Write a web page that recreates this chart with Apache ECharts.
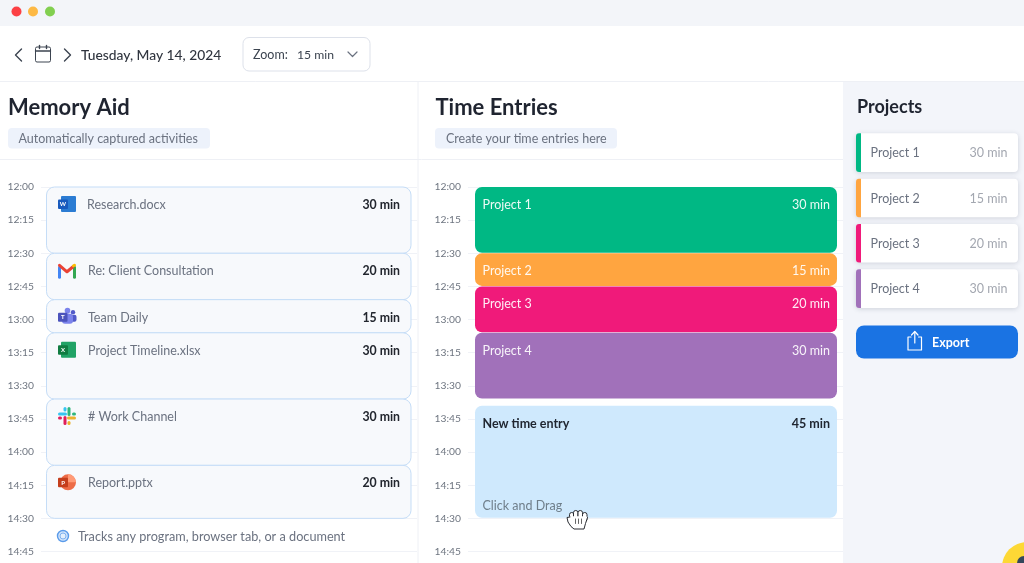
<!DOCTYPE html>
<html>
<head>
<meta charset="utf-8">
<title>Time Entries</title>
<style>
html,body{margin:0;padding:0;background:#fff;}
#chart{width:1024px;height:563px;filter:blur(0.3px);}
</style>
<script src="https://cdn.jsdelivr.net/npm/echarts@6/dist/echarts.min.js"></script>
</head>
<body>
<div id="chart"></div>
<script>
var FONT = 'Lato, "Noto Sans", sans-serif';

// time axis, minutes since midnight
var timeLabels = ['12:00','12:15','12:30','12:45','13:00','13:15','13:30','13:45','14:00','14:15','14:30','14:45'];
var axisMin = 720, axisMax = 885, axisStep = 15;

// memory aid column
var memoryNames = ['Research.docx','Re: Client Consultation','Team Daily','Project Timeline.xlsx','# Work Channel','Report.pptx'];
var memoryIcons = ['word','gmail','teams','excel','slack','ppt'];
var memoryStart = [720,750,771,786,816,846];
var memoryEnd = [750,771,786,816,846,870];
var memoryLabels = [30,20,15,30,30,20];

// time entries column
var entryNames = ['Project 1','Project 2','Project 3','Project 4','New time entry'];
var entryStart = [720,750,765,786,819];
var entryEnd = [750,765,786,816,870];
var entryLabels = [30,15,20,30,45];
var entryColors = ['#00b884','#ffa540','#f01a7a','#a171ba','#cfe9fd'];

// projects side list
var projectNames = ['Project 1','Project 2','Project 3','Project 4'];
var projectMinutes = [30,15,20,30];

function txt(x, y, text, size, fill, weight, align) {
    return {
        type: 'text', x: x, y: y, silent: true,
        style: {
            text: text, fill: fill, textAlign: align || 'left', textVerticalAlign: 'middle',
            font: (weight || 'normal') + ' ' + size + 'px ' + FONT
        }
    };
}
function box(x, y, w, h, r, fill, stroke) {
    return {
        type: 'rect', silent: true,
        shape: {x: x, y: y, width: w, height: h, r: r},
        style: {fill: fill, stroke: stroke || null, lineWidth: stroke ? 1 : 0}
    };
}
function ln(points, color, width) {
    return {
        type: 'polyline', silent: true,
        shape: {points: points},
        style: {fill: null, stroke: color, lineWidth: width || 1.5, lineCap: 'round', lineJoin: 'round'}
    };
}
function dot(x, y, r, fill) {
    return {type: 'circle', silent: true, shape: {cx: x, cy: y, r: r}, style: {fill: fill}};
}

// little app logos next to the captured activities
function appIcon(kind, x, y) {
    if (kind === 'word' || kind === 'excel') {
        var light = kind === 'word' ? '#2b7cd3' : '#21a366';
        var dark = kind === 'word' ? '#185abd' : '#107c41';
        return [
            box(x - 6, y - 8, 15, 16, 1, light),
            box(x - 9, y - 4.5, 10, 9.5, 1, dark),
            txt(x - 4, y + 0.5, kind === 'word' ? 'W' : 'X', 6, '#fff', 'bold', 'center')
        ];
    }
    if (kind === 'ppt') {
        return [
            dot(x + 1, y, 8, '#ed6c47'),
            {type: 'sector', silent: true, shape: {cx: x + 1, cy: y, r: 8, startAngle: -Math.PI / 2, endAngle: 0}, style: {fill: '#ff9a76'}},
            box(x - 9, y - 4.5, 10, 9.5, 1, '#c43e1c'),
            txt(x - 4, y + 0.5, 'P', 6, '#fff', 'bold', 'center')
        ];
    }
    if (kind === 'teams') {
        return [
            dot(x + 6, y - 4.5, 2.2, '#5059c9'),
            box(x + 2, y - 2, 7.5, 7, 2, '#5059c9'),
            dot(x + 0.5, y - 6, 2.8, '#7b83eb'),
            box(x - 5, y - 3, 11, 10, 3, '#7b83eb'),
            box(x - 9, y - 4, 9.5, 9, 1, '#4b53bc'),
            txt(x - 4.2, y + 0.5, 'T', 6, '#fff', 'bold', 'center')
        ];
    }
    if (kind === 'gmail') {
        return [
            ln([[x - 7.5, y - 3], [x - 7.5, y + 7]], '#4285f4', 3),
            ln([[x + 7.5, y - 3], [x + 7.5, y + 7]], '#34a853', 3),
            ln([[x - 7.5, y - 5], [x, y + 1.5], [x + 6, y - 3.5]], '#ea4335', 3),
            ln([[x + 6.5, y - 4.5], [x + 7.5, y - 5]], '#fbbc04', 3)
        ];
    }
    // slack
    return [
        ln([[x - 7.5, y - 2], [x - 1.5, y - 2]], '#36c5f0', 3),
        ln([[x - 2, y - 7.5], [x - 2, y - 6]], '#36c5f0', 3),
        ln([[x + 2, y - 7.5], [x + 2, y - 1.5]], '#2eb67d', 3),
        ln([[x + 6.5, y - 2], [x + 7.5, y - 2]], '#2eb67d', 3),
        ln([[x + 1.5, y + 2], [x + 7.5, y + 2]], '#ecb22e', 3),
        ln([[x + 2, y + 6.5], [x + 2, y + 7.5]], '#ecb22e', 3),
        ln([[x - 2, y + 1.5], [x - 2, y + 7.5]], '#e01e5a', 3),
        ln([[x - 7.5, y + 2], [x - 6.5, y + 2]], '#e01e5a', 3)
    ];
}

function renderMemory(params, api) {
    var i = api.value(0);
    var a = api.coord([0, api.value(1)]);
    var b = api.coord([1, api.value(2)]);
    var x = a[0] + 5.5, w = b[0] - a[0] - 11.5;
    var ty = a[1] + 17;
    var kids = [
        box(x, a[1], w, b[1] - a[1], 8, '#f7f9fc', '#c5ddf7'),
        txt(x + 40.5 + (i > 0 ? 1 : 0), ty + 1, memoryNames[i], 12.5, '#6b7280'),
        txt(x + w - 11, ty + 1, memoryLabels[i] + ' min', 12.3, '#22262e', 'bold', 'right')
    ].concat(appIcon(memoryIcons[i], x + 20.5, ty));
    return {type: 'group', children: kids};
}

function renderEntry(params, api) {
    var i = api.value(0);
    var a = api.coord([0, api.value(1)]);
    var b = api.coord([1, api.value(2)]);
    var x = a[0] + 7, w = b[0] - a[0] - 13;
    var ty = a[1] + 18;
    var isNew = i === entryNames.length - 1;
    var c = isNew ? '#1f2530' : 'rgba(255,255,255,0.92)';
    var kids = [
        box(x, a[1], w, b[1] - a[1] - 0.5, 7, entryColors[i]),
        txt(x + 7.5, ty, entryNames[i], 12.5, c, isNew ? 'bold' : 'normal'),
        txt(x + w - 7, ty, entryLabels[i] + ' min', 12.5, c, isNew ? 'bold' : 'normal', 'right')
    ];
    if (isNew) {
        kids.push(txt(x + 7.5, b[1] - 12.5, 'Click and Drag', 12.5, '#6f7e8a'));
    }
    return {type: 'group', children: kids};
}

function renderProject(params, api) {
    var i = api.value(0);
    var a = api.coord([0, i]);
    var b = api.coord([1, i]);
    var h = 38.6;
    var y = a[1] - h / 2;
    var card = box(a[0], y, b[0] - a[0], h, 4, '#fff');
    card.style.shadowBlur = 5;
    card.style.shadowColor = 'rgba(40,50,80,0.18)';
    card.style.shadowOffsetY = 1;
    return {type: 'group', children: [
        card,
        box(a[0], y, 5, h, [3, 0, 0, 3], entryColors[i]),
        txt(a[0] + 14.5, a[1] + 0.8, projectNames[i], 12.5, '#6b7280'),
        txt(b[0] - 10.5, a[1] + 0.8, projectMinutes[i] + ' min', 12.5, '#a3a7b0', 'normal', 'right')
    ]};
}

function timeAxis(idx) {
    return {
        type: 'value', gridIndex: idx, inverse: true,
        min: axisMin, max: axisMax, interval: axisStep,
        axisLine: {show: false}, axisTick: {show: false},
        axisLabel: {
            margin: 7, color: '#6e7580', fontSize: 10.3, fontFamily: FONT,
            formatter: function (v) { return timeLabels[(v - axisMin) / axisStep]; }
        },
        splitLine: {show: true, lineStyle: {color: '#f0f2f7', width: 1}}
    };
}
function laneAxis(idx) {
    return {type: 'value', gridIndex: idx, min: 0, max: 1, show: false, splitLine: {show: false}};
}
function rows(starts, ends) {
    var out = [];
    for (var i = 0; i < starts.length; i++) out.push([i, starts[i], ends[i]]);
    return out;
}

// window chrome, headers and the bits around the chart
var chrome = [
    box(0, 0, 1024, 26, 0, '#f3f5f9'),
    dot(16.5, 11.5, 5, '#fc4045'), dot(33, 11.5, 5, '#fdb945'), dot(50, 11.5, 5, '#82cf50'),
    ln([[21.5, 49], [15.5, 55], [21.5, 61]], '#3c4450', 1.4),
    box(35.5, 47, 15, 15, 1.5, null, '#3c4450'),
    ln([[35.5, 51], [50.5, 51]], '#3c4450', 1.4),
    ln([[39.5, 45.5], [39.5, 48.5]], '#3c4450', 1.4),
    ln([[46.5, 45.5], [46.5, 48.5]], '#3c4450', 1.4),
    ln([[64.5, 49], [70.5, 55], [64.5, 61]], '#3c4450', 1.4),
    txt(81, 55.5, 'Tuesday, May 14, 2024', 13.8, '#30353f', '500'),
    box(243, 37.5, 127, 33.5, 6, '#fff', '#dde1ea'),
    txt(253, 55, 'Zoom:', 12.5, '#3c4450'),
    txt(297, 55, '15 min', 12.2, '#3c4450'),
    ln([[348, 52], [352.5, 56.5], [357, 52]], '#6b7280', 1.2),
    ln([[0, 81.5], [1024, 81.5]], '#eef0f5', 1),
    ln([[0, 159.5], [843, 159.5]], '#eef0f5', 1),
    ln([[418, 82], [418, 563]], '#eef0f5', 1),
    box(843, 82, 181, 481, 0, '#f3f5fa'),
    txt(8, 108, 'Memory Aid', 22, '#1f2430', 'bold'),
    box(8, 128, 202, 20.5, 4, '#edf2fb'),
    txt(18.5, 138.5, 'Automatically captured activities', 12.5, '#6b7280'),
    txt(435.5, 108, 'Time Entries', 22, '#1f2430', 'bold'),
    box(435, 128, 182, 20.5, 4, '#edf2fb'),
    txt(446, 138.5, 'Create your time entries here', 12.5, '#6b7280'),
    txt(857, 107.5, 'Projects', 18, '#1f2430', 'bold'),
    box(856, 325.5, 162, 33, 8, '#1a73e3'),
    ln([[911, 337], [908, 337], [908, 350], [921.5, 350], [921.5, 337], [918.5, 337]], '#fff', 1.2),
    ln([[914.8, 343], [914.8, 332]], '#fff', 1.2),
    ln([[911.5, 335], [914.8, 331.5], [918, 335]], '#fff', 1.2),
    txt(932, 342.5, 'Export', 12.5, '#fff', 'bold'),
    {type: 'circle', silent: true, shape: {cx: 63, cy: 536, r: 5.5}, style: {fill: '#cfe3fb', stroke: '#5a9bea', lineWidth: 1.4}},
    {type: 'circle', silent: true, shape: {cx: 63, cy: 536, r: 3}, style: {fill: '#e3effc', stroke: '#7fb2f0', lineWidth: 1}},
    txt(78, 536.5, 'Tracks any program, browser tab, or a document', 12.7, '#6b7280')
];

// cursor and the corner badge sit above the series
var overlay = [
    box(569.5, 512.5, 4.5, 9, 2.2, '#fff', '#2a2d33'),
    box(573.5, 510.5, 4.5, 10, 2.2, '#fff', '#2a2d33'),
    box(578, 510.5, 4.5, 10, 2.2, '#fff', '#2a2d33'),
    box(582.5, 512.5, 4.5, 9, 2.2, '#fff', '#2a2d33'),
    {
        type: 'polygon', silent: true,
        shape: {
            smooth: 0.2,
            points: [[567, 518], [570, 516.5], [584, 516.5], [587.5, 517], [586, 523], [584, 528.5], [574, 529], [571, 526.5]]
        },
        style: {fill: '#fff'}
    },
    ln([[570, 517], [567, 517.5], [568, 522], [571, 526.5], [574, 529], [584, 529], [585.5, 523.5], [587.5, 517.5]], '#2a2d33', 1),
    ln([[575.5, 519], [575.5, 523.5]], '#555', 0.9),
    ln([[578.5, 519], [578.5, 523.5]], '#555', 0.9),
    ln([[581.5, 519], [581.5, 523.5]], '#555', 0.9),
    dot(1027, 567, 25, '#fdd835'),
    dot(1024, 563, 7, '#33475b')
];
overlay.forEach(function (el) { el.z = 10; });

var chart = echarts.init(document.getElementById('chart'));
chart.setOption({
    animation: false,
    backgroundColor: '#fff',
    graphic: {elements: chrome.concat(overlay)},
    grid: [
        {left: 41, top: 187, width: 376, height: 364.5},
        {left: 468, top: 187, width: 375, height: 364.5},
        {left: 856, top: 130, width: 162, height: 181.3}
    ],
    xAxis: [laneAxis(0), laneAxis(1), laneAxis(2)],
    yAxis: [
        timeAxis(0),
        timeAxis(1),
        {type: 'category', gridIndex: 2, data: projectNames, inverse: true, show: false}
    ],
    series: [
        {
            type: 'custom', xAxisIndex: 0, yAxisIndex: 0, silent: true,
            encode: {y: [1, 2]}, renderItem: renderMemory, data: rows(memoryStart, memoryEnd), clip: false
        },
        {
            type: 'custom', xAxisIndex: 1, yAxisIndex: 1, silent: true,
            encode: {y: [1, 2]}, renderItem: renderEntry, data: rows(entryStart, entryEnd), clip: false
        },
        {
            type: 'custom', xAxisIndex: 2, yAxisIndex: 2, silent: true,
            encode: {y: 0}, renderItem: renderProject, data: projectMinutes.map(function (m, i) { return [i, m]; }), clip: false
        }
    ]
});
</script>
</body>
</html>
